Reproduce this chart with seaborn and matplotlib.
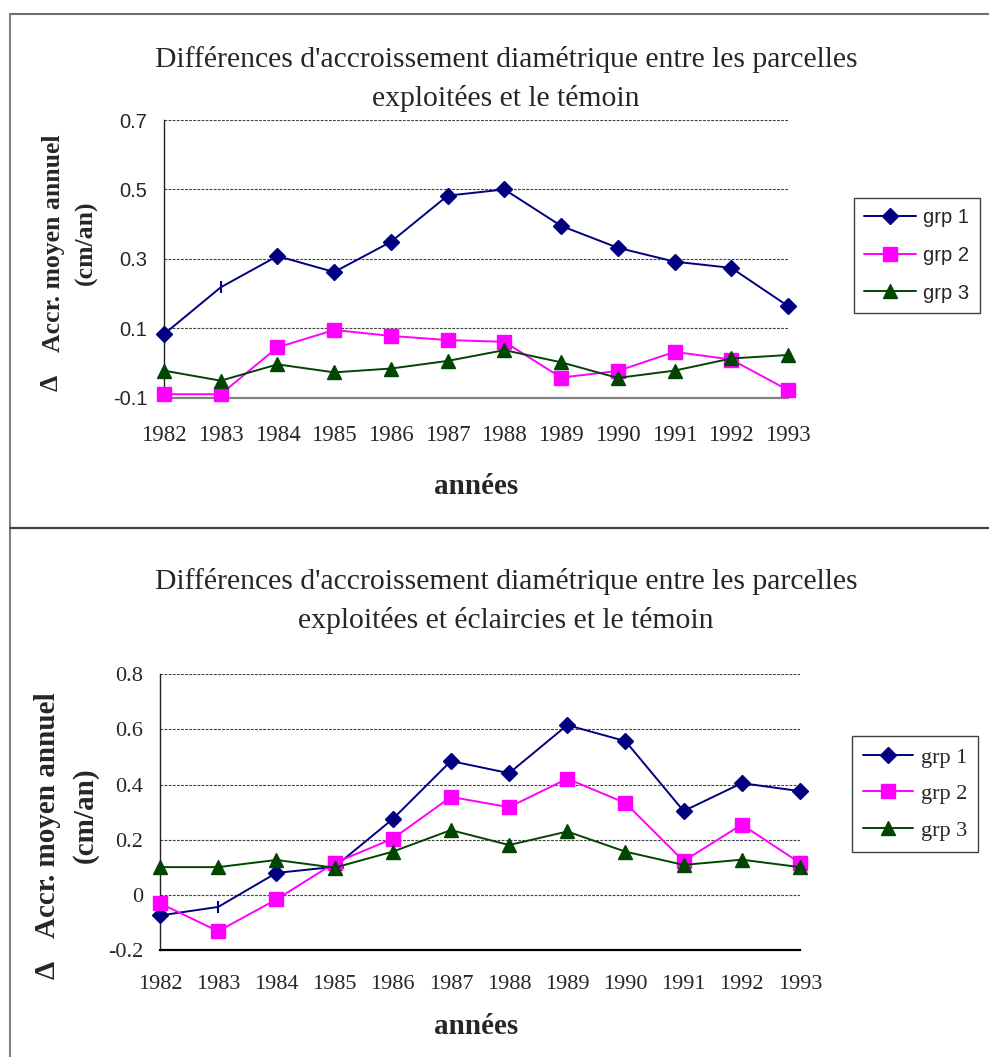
import matplotlib
matplotlib.use("Agg")
import matplotlib.pyplot as plt
import seaborn as sns
from matplotlib.lines import Line2D

# ---- data -------------------------------------------------------------
years = [1982, 1983, 1984, 1985, 1986, 1987, 1988, 1989, 1990, 1991, 1992, 1993]
series_names = ["grp 1", "grp 2", "grp 3"]

# harvested plots vs control
exp_grp1 = [0.083, 0.218, 0.308, 0.262, 0.349, 0.482, 0.500, 0.395, 0.332, 0.292, 0.274, 0.164]
exp_grp2 = [-0.090, -0.090, 0.045, 0.095, 0.078, 0.066, 0.061, -0.042, -0.023, 0.032, 0.010, -0.078]
exp_grp3 = [-0.022, -0.051, -0.004, -0.027, -0.016, 0.006, 0.037, 0.002, -0.043, -0.022, 0.013, 0.023]

# harvested + thinned plots vs control
ecl_grp1 = [-0.074, -0.043, 0.080, 0.102, 0.275, 0.485, 0.441, 0.615, 0.557, 0.304, 0.405, 0.376]
ecl_grp2 = [-0.030, -0.131, -0.016, 0.116, 0.204, 0.355, 0.318, 0.421, 0.333, 0.123, 0.255, 0.116]
ecl_grp3 = [0.101, 0.101, 0.127, 0.099, 0.157, 0.235, 0.181, 0.230, 0.157, 0.109, 0.128, 0.101]

top_yticks = [-0.1, 0.1, 0.3, 0.5, 0.7]
bottom_yticks = [-0.2, 0.0, 0.2, 0.4, 0.6, 0.8]
bottom_yticklabels = ["-0.2", "0", "0.2", "0.4", "0.6", "0.8"]

title_top = "Différences d'accroissement diamétrique entre les parcelles\nexploitées et le témoin"
title_bottom = "Différences d'accroissement diamétrique entre les parcelles\nexploitées et éclaircies et le témoin"
ylabel_text = "Accr. moyen annuel\n(cm/an)"
xlabel_text = "années"

# ---- styling ----------------------------------------------------------
sns.set_style("white")
SERIF = "Liberation Serif"
SANS = "Liberation Sans"
plt.rcParams["font.family"] = [SERIF, "DejaVu Serif"]

colors = ["#000080", "#FF00FF", "#004600"]
markers = ["D", "s", "^"]
msizes = [8.5, 9.5, 9.5]

W, H = 989, 1057
fig = plt.figure(figsize=(W / 100, H / 100), dpi=100)


def fx(px):
    return px / W


def fy(py):
    return 1 - py / H


def draw_panel(ax, series, yticks, ylim, yticklabels, ytick_font, ytick_fs,
               xtick_fs, xtick_pad, x_spine_color, legend_font, legend_fs,
               legend_box, handle_len, label_sp):
    for i, (vals, name) in enumerate(zip(series, series_names)):
        every = [k for k in range(len(years)) if not (i == 0 and k == 1)]
        sns.lineplot(x=years, y=vals, ax=ax, color=colors[i], marker=markers[i],
                     markersize=msizes[i], markeredgecolor=colors[i],
                     markerfacecolor=colors[i], markeredgewidth=1,
                     linewidth=1.4, markevery=every, clip_on=False,
                     legend=False, zorder=3 + i)
        if i == 0:
            # the 1983 point of grp 1 is drawn as a short vertical bar
            ax.plot([years[1]], [vals[1]], marker="|", markersize=8,
                    markeredgewidth=1.5, color=colors[0], linestyle="none",
                    clip_on=False, zorder=6)

    ax.set_xlim(years[0], years[-1])
    ax.set_ylim(*ylim)
    ax.set_xticks(years)
    ax.set_xticklabels([str(y) for y in years], fontfamily=SERIF, fontsize=xtick_fs)
    ax.set_yticks(yticks)
    ax.set_yticklabels(yticklabels, fontfamily=ytick_font, fontsize=ytick_fs)
    ax.tick_params(axis="x", direction="inout", length=12, width=1,
                   color=x_spine_color, pad=xtick_pad)
    ax.tick_params(axis="y", direction="out", length=5, width=1,
                   color="#333333", pad=7)
    ax.yaxis.grid(True, linestyle=(0, (2.5, 1.2)), color="#444444", linewidth=0.8)
    ax.xaxis.grid(False)
    ax.set_axisbelow(True)
    for s in ("top", "right"):
        ax.spines[s].set_visible(False)
    ax.spines["left"].set_color("#222222")
    ax.spines["left"].set_linewidth(1.0)
    ax.spines["bottom"].set_color(x_spine_color)
    ax.spines["bottom"].set_linewidth(1.6)
    ax.set_xlabel("")
    ax.set_ylabel("")

    handles = [Line2D([], [], color=c, marker=m, markersize=ms, linewidth=1.4,
                      markeredgecolor=c, markerfacecolor=c)
               for c, m, ms in zip(colors, markers, msizes)]
    leg = fig.legend(handles, series_names, loc="upper left",
                     bbox_to_anchor=(fx(legend_box[0]), fy(legend_box[1])),
                     bbox_transform=fig.transFigure, frameon=True, fancybox=False,
                     shadow=False, handlelength=handle_len, handletextpad=0.35,
                     labelspacing=label_sp, borderpad=0.5, borderaxespad=0,
                     prop={"family": legend_font, "size": legend_fs})
    leg.get_frame().set_edgecolor("#111111")
    leg.get_frame().set_linewidth(1.0)
    return leg


# ---- top panel --------------------------------------------------------
ax1 = fig.add_axes([fx(164), fy(397.7), fx(788) - fx(164), (397.7 - 120) / H])
draw_panel(ax1, [exp_grp1, exp_grp2, exp_grp3], top_yticks, (-0.1, 0.7),
           [f"{v:.1f}" for v in top_yticks], SANS, 14.5, 16.5, 14,
           "#808080", SANS, 14.5, (854, 198), 2.6, 0.93)

fig.text(fx(506), fy(79), title_top, ha="center", va="center",
         fontsize=21.3, family=SERIF, linespacing=1.6, multialignment="center")
fig.text(fx(70), fy(243), ylabel_text, rotation=90, ha="center", va="center",
         fontsize=18.5, family=SERIF, fontweight="bold", linespacing=1.55,
         multialignment="center")
fig.text(fx(51), fy(383), "Δ", rotation=90, ha="center", va="center",
         fontsize=18.5, family=SERIF, fontweight="bold")
fig.text(fx(476), fy(486), xlabel_text, ha="center", va="center",
         fontsize=21, family=SERIF, fontweight="bold")

# ---- bottom panel -----------------------------------------------------
ax2 = fig.add_axes([fx(160), fy(950.3), fx(800) - fx(160), (950.3 - 674) / H])
draw_panel(ax2, [ecl_grp1, ecl_grp2, ecl_grp3], bottom_yticks, (-0.2, 0.8),
           bottom_yticklabels, SERIF, 16, 16, 12,
           "#000000", SERIF, 16, (852, 736), 2.25, 0.72)

fig.text(fx(506), fy(601), title_bottom, ha="center", va="center",
         fontsize=21.3, family=SERIF, linespacing=1.6, multialignment="center")
fig.text(fx(66), fy(815), ylabel_text, rotation=90, ha="center", va="center",
         fontsize=21, family=SERIF, fontweight="bold", linespacing=1.5,
         multialignment="center")
fig.text(fx(47), fy(970), "Δ", rotation=90, ha="center", va="center",
         fontsize=21, family=SERIF, fontweight="bold")
fig.text(fx(476), fy(1027), xlabel_text, ha="center", va="center",
         fontsize=21, family=SERIF, fontweight="bold")

# ---- panel frames -----------------------------------------------------
fig.add_artist(Line2D([fx(10), 1.0], [fy(13.7), fy(13.7)], transform=fig.transFigure,
                      color="#6e6e6e", linewidth=1.5))
fig.add_artist(Line2D([fx(10), fx(10)], [fy(13.7), 0.0], transform=fig.transFigure,
                      color="#808080", linewidth=1.5))
fig.add_artist(Line2D([fx(10), 1.0], [fy(527.7), fy(527.7)], transform=fig.transFigure,
                      color="#444444", linewidth=1.6))

fig.savefig("out.png", dpi=100)
